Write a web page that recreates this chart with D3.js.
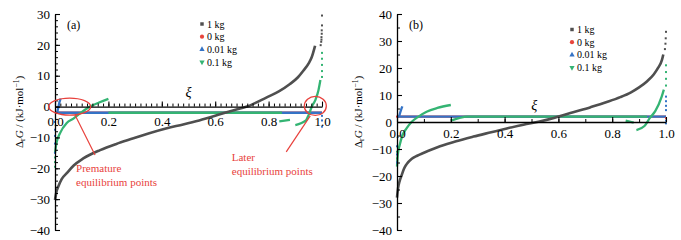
<!DOCTYPE html>
<html>
<head>
<meta charset="utf-8">
<script src="https://cdn.jsdelivr.net/npm/d3@7/dist/d3.min.js"></script>
<style>
body { margin: 0; background: #fff; }
svg { font-family: "Liberation Serif", "DejaVu Serif", serif; }
</style>
</head>
<body>
<div class="chartdiv"></div>
<script>
/*
two panels of reaction Gibbs energy against extent of reaction
*/

// legend names and colours
var seriesNames = ["1 kg", "0 kg", "0.01 kg", "0.1 kg"];
var seriesColors = ["#4f4f4f", "#e8453c", "#3473c6", "#34b473"];

// tick values
var xTicks = [0, 0.2, 0.4, 0.6, 0.8, 1.0];
var yTicksA = [-40, -30, -20, -10, 0, 10, 20, 30];
var yTicksB = [-40, -30, -20, -10, 0, 10, 20, 30, 40];

// panel (a) data, pairs of [xi, dG]
var a1kg = [[0, -30.3], [0.005, -27.8], [0.012, -26], [0.025, -23.5], [0.044, -21.6], [0.07, -19.1],
  [0.106, -16.8], [0.169, -14.1], [0.23, -12.1], [0.294, -10.3], [0.35, -8.7], [0.419, -7.0],
  [0.48, -5.8], [0.54, -4.5], [0.6, -3.0], [0.66, -1.4], [0.719, 0], [0.793, 3.0], [0.84, 5],
  [0.88, 7.3], [0.91, 9.5], [0.93, 11.6], [0.95, 14], [0.961, 15.9], [0.974, 19.7]];
var a1kgDots = [[0.995, 19.9], [0.997, 21], [0.998, 21.7], [0.998, 22.5], [0.999, 23.6],
  [0.999, 24.7], [1, 26.3], [1, 29.5]];
var a0kg = [[0, -2], [1, -2]];
var a001kg = [[0.01, -2], [1, -2]];
var a001kgSpike = [[0.008, -2], [0.012, -0.5], [0.016, 1.2], [0.021, 2.6]];
var a001kgDots = [[0, -5], [0, -7.5], [0, -9.5], [0, -12], [0, -15], [1, -3], [1, -4.5], [1, -6.5]];
var a01kg = [[0, -15], [0.005, -12], [0.019, -8.6], [0.044, -5.3], [0.069, -3.9], [0.1, -1.8],
  [0.131, 0], [0.165, 1.3], [0.2, 2.5]];
var a01kgFlat = [[0.2, -2], [0.85, -2]];
var a01kgEnd1 = [[0.84, -4.8], [0.88, -4.3]];
var a01kgEnd2 = [[0.9, -6], [0.94, -4.5], [0.95, -2.7], [0.962, 0], [0.975, 2.1], [0.987, 5.4], [0.994, 8.6]];
var a01kgDots = [[0, -16.5], [0, -18], [0, -19.5], [1, 9.6], [1, 11.5], [1, 13.5], [1, 15.5], [1, 17.4]];

// panel (b) data
var b1kg = [[0, -28], [0.004, -24.5], [0.01, -21.8], [0.017, -19.8], [0.026, -17.3], [0.036, -15.6],
  [0.055, -13.6], [0.075, -12.5], [0.098, -11.5], [0.16, -9.0], [0.22, -7.1], [0.284, -5.4],
  [0.35, -3.8], [0.408, -2.4], [0.47, -1], [0.53, 0.2], [0.58, 1.4], [0.655, 3.6], [0.72, 5.5],
  [0.78, 7.4], [0.83, 9.2], [0.87, 11.0], [0.9, 12.8], [0.93, 15.1], [0.955, 17.7], [0.971, 20.1],
  [0.985, 23], [0.99, 25]];
var b1kgDots = [[0.996, 27], [0.998, 29], [0.999, 31], [1, 33.4]];
var b0kg = [[0, 2], [1, 2]];
var b0kgDots = [[0, 2], [1, 1.4]];
var b001kg = [[0, 2], [1, 2]];
var b001kgSpike = [[0.008, 2], [0.012, 3.5], [0.016, 4.8], [0.02, 5.8]];
var b001kgDots = [[0, -9], [0, -12], [0, -15], [1, 4.4], [1, 6], [1, 7.7], [1, 9.4], [1, 0.5], [1, -0.5]];
var b01kg = [[0, -16.5], [0.003, -12], [0.01, -8.5], [0.02, -5], [0.036, -2.3], [0.054, 0],
  [0.08, 2], [0.11, 3.8], [0.15, 5.2], [0.2, 6.3]];
var b01kgFlat = [[0.2, 0.5], [0.23, 1.4], [0.26, 2], [0.93, 2]];
var b01kgEnd1 = [[0.85, 0.5], [0.88, -0.2]];
var b01kgEnd2 = [[0.89, -3], [0.92, -1.5], [0.94, 1.5], [0.96, 4], [0.984, 9.4], [0.992, 12]];
var b01kgDots = [[0, -11], [0, -13.5], [0, -16], [1, 13.5], [1, 16], [1, 18.5], [1, 21]];

// annotation texts of panel (a)
var noteLeft = ["Premature", "equilibrium points"];
var noteRight = ["Later", "equilibrium points"];

var svg = d3.select(".chartdiv")
  .append("svg")
  .attr("width", 681)
  .attr("height", 240);

var panels = [
  {name: "(a)", left: 55, top: 14, width: 267, height: 216, yDomain: [-40, 30], yTicks: yTicksA,
   yMinorStep: 2, xMinorStep: 0.02, labelPad: 10, xiAt: [0.5, 3], labelX: 23,
   legendX: 147, legendY: 10,
   lines: [[a0kg, 1], [a001kg, 2], [a001kgSpike, 2], [a01kg, 3], [a01kgFlat, 3], [a01kgEnd1, 3], [a01kgEnd2, 3], [a1kg, 0]],
   dots: [[a001kgDots, 2], [a01kgDots, 3], [a1kgDots, 0]]},
  {name: "(b)", left: 397, top: 14, width: 269, height: 216, yDomain: [-40, 40], yTicks: yTicksB,
   yMinorStep: 5, xMinorStep: 0.1, labelPad: 6.5, xiAt: [0.51, 4.5], labelX: 362,
   legendX: 175, legendY: 15.5,
   lines: [[b0kg, 1], [b001kg, 2], [b001kgSpike, 2], [b01kg, 3], [b01kgFlat, 3], [b01kgEnd1, 3], [b01kgEnd2, 3], [b1kg, 0]],
   dots: [[b0kgDots, 1], [b001kgDots, 2], [b01kgDots, 3], [b1kgDots, 0]]}
];

var symbols = [d3.symbolSquare, d3.symbolCircle, d3.symbolTriangle, d3.symbolTriangle];

panels.forEach(function(p) {
  var g = svg.append("g")
    .attr("transform", "translate(" + p.left + "," + p.top + ")");

  var x = d3.scaleLinear().domain([0, 1]).range([0, p.width]);
  var y = d3.scaleLinear().domain(p.yDomain).range([p.height, 0]);

  var line = d3.line()
    .x(function(d) { return x(d[0]); })
    .y(function(d) { return y(d[1]); })
    .curve(d3.curveMonotoneX);

  // curves
  p.lines.forEach(function(s) {
    g.append("path")
      .datum(s[0])
      .attr("d", line)
      .attr("fill", "none")
      .attr("stroke", seriesColors[s[1]])
      .attr("stroke-width", s[1] === 0 ? 2.6 : 2.3);
  });

  // scattered points at the ends
  p.dots.forEach(function(s) {
    g.selectAll(null)
      .data(s[0])
      .enter().append("rect")
      .attr("x", function(d) { return x(d[0]) - 1; })
      .attr("y", function(d) { return y(d[1]) - 1; })
      .attr("width", 2)
      .attr("height", 2)
      .attr("fill", seriesColors[s[1]]);
  });

  // x axis sits on dG = 0, ticks point up
  g.append("g")
    .attr("transform", "translate(0," + y(0) + ")")
    .call(d3.axisBottom(x).tickValues(d3.range(0, 1.0001, p.xMinorStep)).tickSize(-3).tickFormat(""))
    .call(function(a) { a.select(".domain").remove(); });

  g.append("g")
    .attr("transform", "translate(0," + y(0) + ")")
    .call(d3.axisBottom(x).tickValues(xTicks).tickSizeInner(-5).tickSizeOuter(0)
      .tickPadding(p.labelPad).tickFormat(d3.format(".1f")))
    .call(function(a) {
      a.select(".domain").attr("stroke-width", 1.3);
      a.selectAll("line").attr("stroke-width", 1.1);
      a.selectAll("text").style("font-size", "13px")
        .style("font-family", "Liberation Serif, serif");
    });

  // y axis, minor ticks then major
  g.append("g")
    .call(d3.axisLeft(y).tickValues(d3.range(p.yDomain[0], p.yDomain[1] + 0.001, p.yMinorStep))
      .tickSize(-3).tickFormat(""))
    .call(function(a) { a.select(".domain").remove(); });

  g.append("g")
    .call(d3.axisLeft(y).tickValues(p.yTicks).tickSizeInner(-5).tickSizeOuter(0).tickPadding(5))
    .call(function(a) {
      a.select(".domain").attr("stroke-width", 1.3);
      a.selectAll("line").attr("stroke-width", 1.1);
      a.selectAll("text").style("font-size", "13px")
        .style("font-family", "Liberation Serif, serif");
    });

  // panel tag and xi label
  g.append("text")
    .attr("x", 12)
    .attr("y", 15)
    .style("font-size", "12px")
    .text(p.name);

  g.append("text")
    .attr("x", x(p.xiAt[0]))
    .attr("y", y(p.xiAt[1]))
    .style("text-anchor", "middle")
    .style("font-size", "14px")
    .style("font-style", "italic")
    .text("ξ");

  // legend
  seriesNames.forEach(function(name, i) {
    var ly = p.legendY + i * 12.7;
    g.append("path")
      .attr("d", d3.symbol().type(symbols[i]).size(i === 1 ? 14 : 12)())
      .attr("transform", "translate(" + p.legendX + "," + ly + ")" + (i === 3 ? " rotate(180)" : ""))
      .attr("fill", seriesColors[i]);
    g.append("text")
      .attr("x", p.legendX + 5)
      .attr("y", ly + 3.5)
      .style("font-size", "10px")
      .text(name);
  });

  // y axis title
  var t = svg.append("text")
    .attr("transform", "translate(" + p.labelX + "," + (p.top + 98) + ") rotate(-90)")
    .style("text-anchor", "middle")
    .style("font-size", "11px");
  t.append("tspan").text("Δ");
  t.append("tspan").attr("dy", 2).style("font-size", "8px").text("r");
  t.append("tspan").attr("dy", -2).style("font-style", "italic").text("G");
  t.append("tspan").text(" / (kJ·mol");
  t.append("tspan").attr("dy", -4).style("font-size", "7.5px").text("−1");
  t.append("tspan").attr("dy", 4).text(")");

  // circled equilibrium points with notes, panel (a) only
  if (p.name === "(a)") {
    var red = "#e8413c";
    g.append("ellipse")
      .attr("cx", x(0.055)).attr("cy", y(0))
      .attr("rx", 21).attr("ry", 8.5)
      .attr("fill", "none").attr("stroke", red).attr("stroke-width", 1.3);
    g.append("ellipse")
      .attr("cx", x(0.975)).attr("cy", y(0.2))
      .attr("rx", 11).attr("ry", 9.5)
      .attr("fill", "none").attr("stroke", red).attr("stroke-width", 1.3);
    g.append("line")
      .attr("x1", x(0.075)).attr("y1", y(-2.7))
      .attr("x2", x(0.15)).attr("y2", y(-15.7))
      .attr("stroke", red).attr("stroke-width", 1.2);
    g.append("line")
      .attr("x1", x(0.956)).attr("y1", y(-3))
      .attr("x2", x(0.866)).attr("y2", y(-14.7))
      .attr("stroke", red).attr("stroke-width", 1.2);
    noteLeft.forEach(function(s, i) {
      g.append("text")
        .attr("x", x(0.079)).attr("y", y(-21.1) + i * 14)
        .style("font-size", "11px").attr("fill", red)
        .text(s);
    });
    noteRight.forEach(function(s, i) {
      g.append("text")
        .attr("x", x(0.662)).attr("y", y(-17.7) + i * 14)
        .style("font-size", "11px").attr("fill", red)
        .text(s);
    });
  }
});
</script>
</body>
</html>
